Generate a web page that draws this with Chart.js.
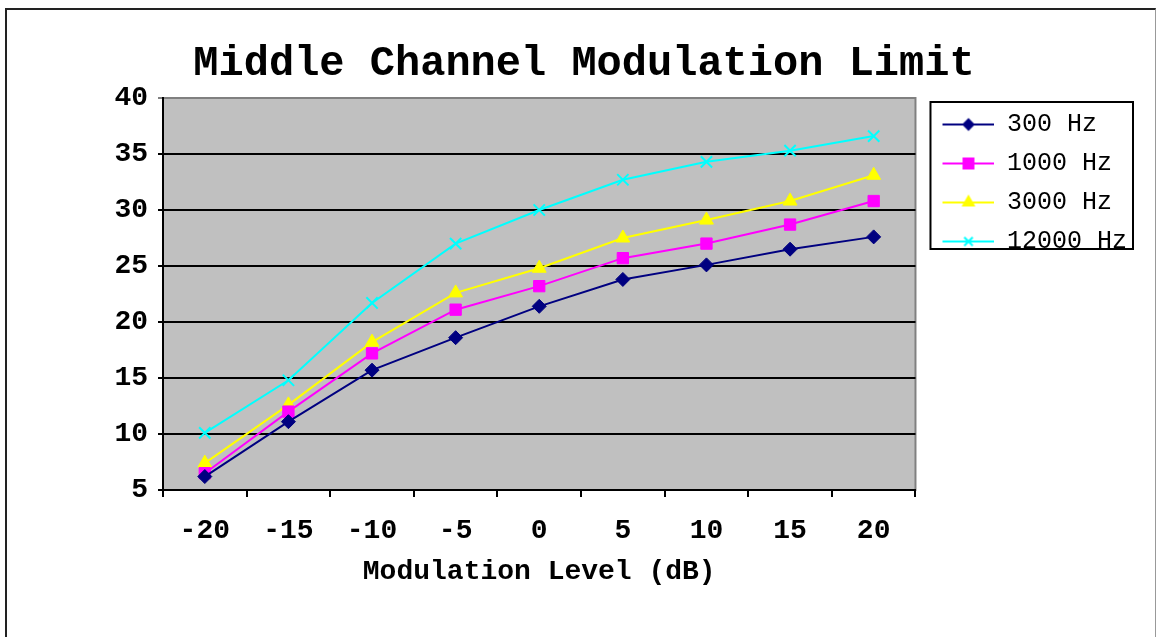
<!DOCTYPE html>
<html>
<head>
<meta charset="utf-8">
<script src="https://cdn.jsdelivr.net/npm/chart.js@4.4.1/dist/chart.umd.min.js"></script>
<style>
  html, body { margin: 0; padding: 0; background: #fff; overflow: hidden; }
  #wrap { position: relative; width: 1157px; height: 637px; }
  #frame { position: absolute; left: 5px; top: 8px; width: 1148px; height: 700px;
           border-top: 2px solid #222; border-left: 2px solid #222; border-right: 1px solid #999; }
  canvas { position: absolute; left: 0; top: 0; }
</style>
</head>
<body>
<div id="wrap">
  <div id="frame"></div>
  <canvas id="myChart" width="1157" height="637"></canvas>
</div>
<script>
// modulation level (dB) on x, limit on y
const levels = ['-20', '-15', '-10', '-5', '0', '5', '10', '15', '20'];
const hz300 = [6.2, 11.1, 15.7, 18.6, 21.4, 23.8, 25.1, 26.5, 27.6];
const hz1000 = [6.5, 12.0, 17.2, 21.1, 23.2, 25.7, 27.0, 28.7, 30.8];
const hz3000 = [7.4, 12.6, 18.2, 22.6, 24.8, 27.5, 29.1, 30.8, 33.1];
const hz12000 = [10.1, 14.8, 21.7, 27.0, 30.0, 32.7, 34.3, 35.3, 36.6];
const seriesNames = ['300 Hz', '1000 Hz', '3000 Hz', '12000 Hz'];

const mono = '"Liberation Mono", "Courier New", monospace';

// little line + marker picture for each legend entry
function legendSample(color, style, r) {
  const c = document.createElement('canvas');
  c.width = 65; c.height = 20;
  const ctx = c.getContext('2d');
  ctx.strokeStyle = color;
  ctx.fillStyle = color;
  ctx.lineWidth = 2;
  ctx.beginPath();
  ctx.moveTo(13, 10);
  ctx.lineTo(65, 10);
  ctx.stroke();
  Chart.helpers.drawPoint(ctx, {pointStyle: style, radius: r, borderWidth: 2, rotation: 0}, 39, 10);
  return c;
}

const samples = [
  legendSample('#000080', 'rectRot', 5),
  legendSample('#ff00ff', 'rect', 7),
  legendSample('#ffff00', 'triangle', 6),
  legendSample('#00ffff', 'crossRot', 6)
];

// grey plot background
const plotBg = {
  id: 'plotBg',
  beforeDraw(chart) {
    const {ctx, chartArea: a} = chart;
    ctx.save();
    ctx.fillStyle = '#c0c0c0';
    ctx.fillRect(a.left, a.top, a.right - a.left, a.bottom - a.top);
    ctx.strokeStyle = '#808080';
    ctx.lineWidth = 2;
    ctx.strokeRect(a.left, a.top, a.right - a.left, a.bottom - a.top);
    ctx.restore();
  }
};

// box round the legend
const legendFrame = {
  id: 'legendFrame',
  afterDraw(chart) {
    const boxes = chart.legend.legendHitBoxes;
    if (!boxes || !boxes.length) return;
    const left = Math.min(...boxes.map(b => b.left));
    const top = Math.min(...boxes.map(b => b.top));
    const right = Math.max(...boxes.map(b => b.left + b.width));
    const bottom = Math.max(...boxes.map(b => b.top + b.height));
    const ctx = chart.ctx;
    ctx.save();
    ctx.strokeStyle = '#000';
    ctx.lineWidth = 2;
    ctx.strokeRect(left + 1, top - 10, right - left + 5, bottom - top + 5);
    ctx.restore();
  }
};

const data = {
  labels: levels,
  datasets: [{
    label: seriesNames[0],
    data: hz300,
    borderColor: '#000080',
    backgroundColor: '#000080',
    pointStyle: 'rectRot',
    pointRadius: 7
  }, {
    label: seriesNames[1],
    data: hz1000,
    borderColor: '#ff00ff',
    backgroundColor: '#ff00ff',
    pointStyle: 'rect',
    pointRadius: 8
  }, {
    label: seriesNames[2],
    data: hz3000,
    borderColor: '#ffff00',
    backgroundColor: '#ffff00',
    pointStyle: 'triangle',
    pointRadius: 8
  }, {
    label: seriesNames[3],
    data: hz12000,
    borderColor: '#00ffff',
    backgroundColor: '#00ffff',
    pointStyle: 'crossRot',
    pointRadius: 8,
    pointBorderWidth: 2
  }]
};

const tickFont = { family: mono, size: 28, weight: 'bold', lineHeight: 1 };

const config = {
  type: 'line',
  data: data,
  plugins: [plotBg, legendFrame],
  options: {
    responsive: false,
    animation: false,
    elements: { line: { borderWidth: 2, tension: 0 }, point: { borderWidth: 1 } },
    layout: { padding: { left: 31, right: 20, top: 0, bottom: 51 } },
    plugins: {
      tooltip: { enabled: false },
      title: {
        display: true,
        text: 'Middle Channel Modulation Limit',
        color: '#000',
        font: { family: mono, size: 42, weight: 'bold', lineHeight: 1 },
        padding: { top: 43, bottom: 13 }
      },
      legend: {
        position: 'right',
        align: 'start',
        fullSize: false,
        labels: {
          color: '#000',
          font: { family: mono, size: 25, lineHeight: 1 },
          padding: 14,
          usePointStyle: true,
          pointStyleWidth: 65,
          generateLabels(chart) {
            const items = Chart.defaults.plugins.legend.labels.generateLabels(chart);
            items.forEach((it, i) => { it.pointStyle = samples[i]; });
            return items;
          }
        }
      }
    },
    scales: {
      x: {
        type: 'category',
        offset: true,
        afterFit(scale) { scale.height = 96; },
        grid: { offset: true, drawOnChartArea: false, drawTicks: true, tickLength: 7, color: '#000', lineWidth: 2 },
        border: { color: '#000', width: 2 },
        ticks: { color: '#000', padding: 20, maxRotation: 0, font: tickFont },
        title: {
          display: true,
          text: 'Modulation Level (dB)',
          color: '#000',
          font: tickFont,
          padding: { top: 12, bottom: 0 }
        }
      },
      y: {
        min: 5,
        max: 40,
        afterFit(scale) { scale.width = 132; },
        ticks: { stepSize: 5, color: '#000', padding: 10, font: tickFont },
        grid: {
          color: ctx => (ctx.tick && ctx.tick.value === 40 ? '#808080' : '#000'),
          lineWidth: 2,
          drawTicks: true,
          tickLength: 5
        },
        border: { color: '#000', width: 2 }
      }
    }
  }
};

const myChart = new Chart(
  document.getElementById('myChart'),
  config
);
</script>
</body>
</html>
